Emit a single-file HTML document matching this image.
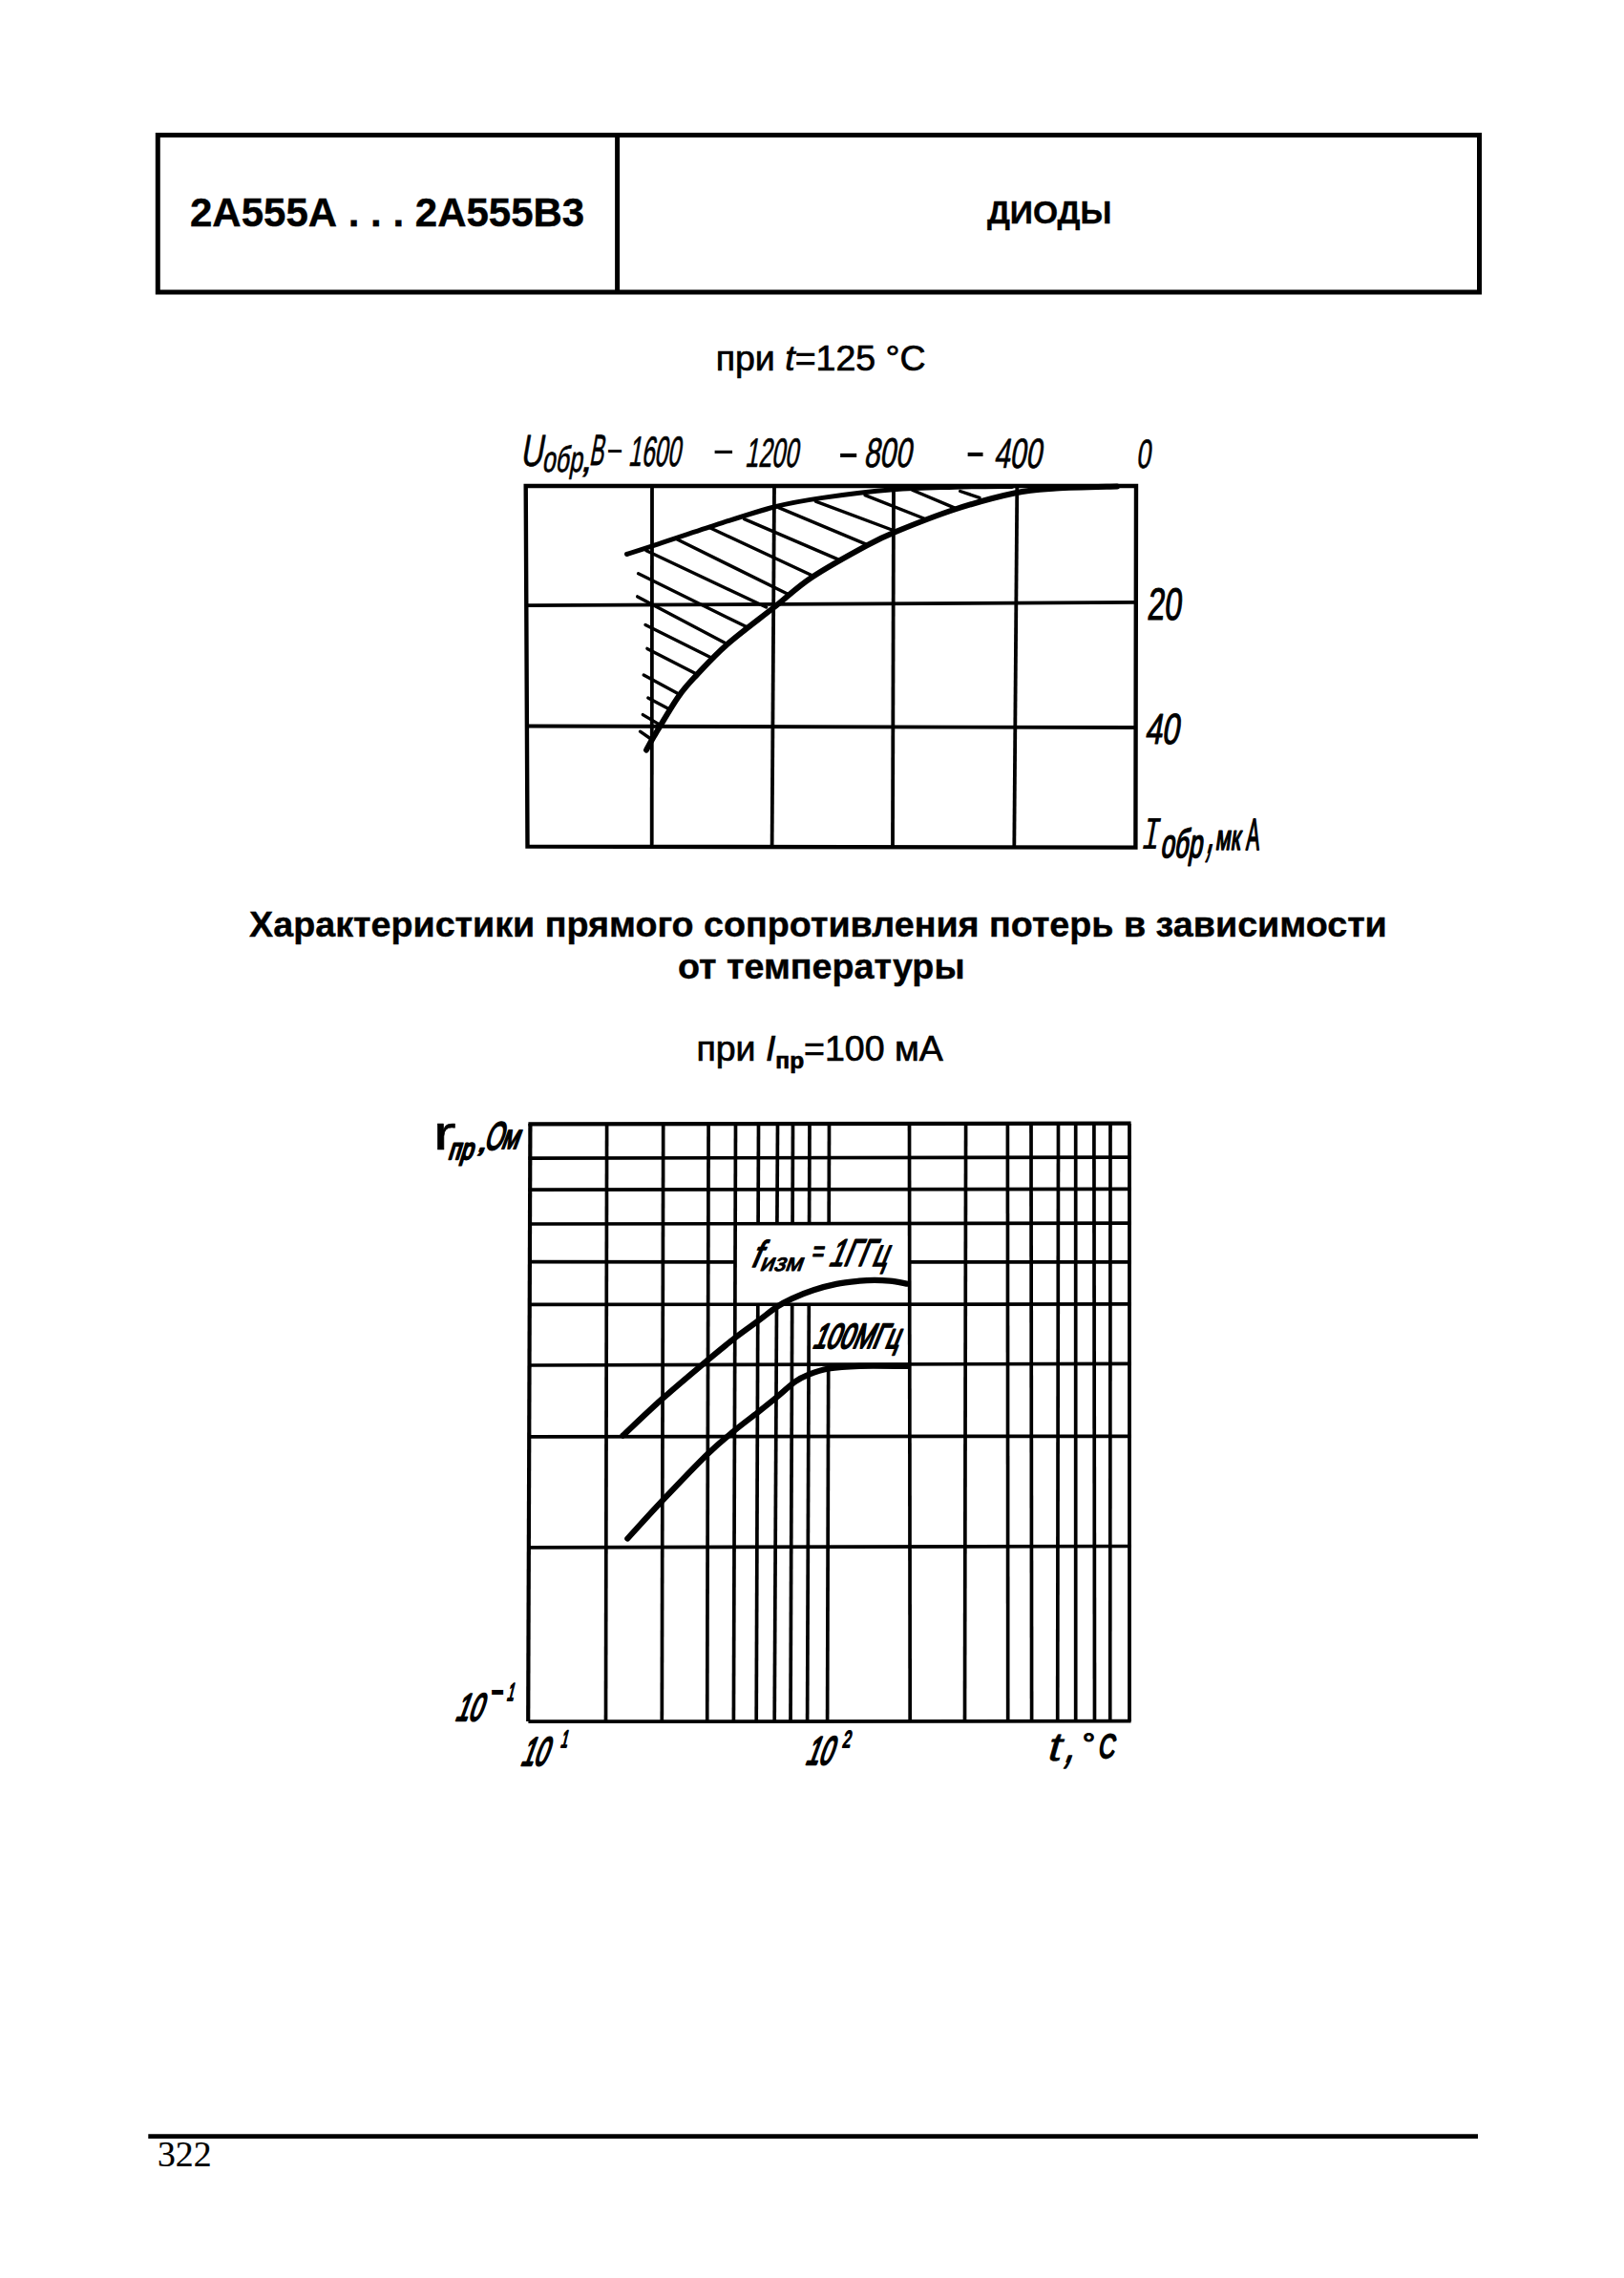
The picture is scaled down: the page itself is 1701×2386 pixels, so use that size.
<!DOCTYPE html>
<html lang="ru">
<head>
<meta charset="utf-8">
<title>2А555А ... 2А555В3 — Диоды</title>
<style>
html,body{margin:0;padding:0;background:#fff;}
body{width:1701px;height:2386px;position:relative;overflow:hidden;color:#000;
  font-family:"Liberation Sans",sans-serif;}
.t{position:absolute;white-space:nowrap;line-height:1;margin:0;padding:0;}
.t{-webkit-text-stroke:0.7px #000;}
.b{font-weight:bold;-webkit-text-stroke:0.4px #000;}
#art{position:absolute;left:0;top:0;width:1701px;height:2386px;}
#art text{font-family:"Liberation Sans",sans-serif;fill:#000;font-size:100px;}
#art text.m{font-family:"Liberation Mono",monospace;}
#art text.bd{font-weight:bold;}
.g{stroke:#000;fill:none;stroke-linecap:butt;}
.c{stroke:#000;fill:none;stroke-linecap:round;stroke-linejoin:round;}
</style>
</head>
<body>
<div class="t b" style="left:199.0px;top:202.4px;font-size:42px;">2А555А . . . 2А555В3</div>
<div class="t b" style="left:1033.9px;top:206.1px;font-size:33.6px;">ДИОДЫ</div>
<div class="t " style="left:749.7px;top:357.3px;font-size:37.5px;">при <i>t</i>=125 °C</div>
<div class="t b" style="left:261.1px;top:950.1px;font-size:37.7px;">Характеристики прямого сопротивления потерь в зависимости</div>
<div class="t b" style="left:710.0px;top:993.9px;font-size:37.7px;">от температуры</div>
<div class="t " style="left:729.4px;top:1079.8px;font-size:37.5px;">при <i>I</i><span style="font-size:24.5px;font-weight:bold;position:relative;top:8px;">пр</span>=100 мА</div>
<div class="t" style="left:165px;top:2237.7px;font-size:37.7px;font-family:'Liberation Serif',serif;-webkit-text-stroke:0.2px #000;">322</div>
<svg id="art" viewBox="0 0 1701 2386" width="1701" height="2386">
<g class="g" stroke-width="5"><rect x="165.3" y="141.5" width="1384.2" height="164.5"/><line x1="646.6" y1="141.5" x2="646.6" y2="306"/></g>
<line class="g" stroke-width="4.8" x1="155.3" y1="2237.7" x2="1548" y2="2237.7"/>
<g id="chart1"><g class="g" stroke-width="3.8"><path d="M550.7 509 L1190 509 L1189.4 887.6 L552.5 886.6 Z" stroke-width="4.4"/><line x1="683" y1="509" x2="682.7" y2="887"/><line x1="811" y1="509" x2="808.6" y2="887"/><line x1="936" y1="509" x2="935" y2="887"/><line x1="1065.3" y1="509" x2="1062.3" y2="887"/><line x1="551" y1="634.2" x2="1190" y2="630.9"/><line x1="551" y1="760.5" x2="1190" y2="762"/></g><g class="c" stroke-width="3.4"><line x1="1005.7" y1="514.5" x2="1026" y2="521.3"/><line x1="955.5" y1="513.2" x2="1000.2" y2="532.1"/><line x1="906" y1="518.6" x2="967.7" y2="543"/><line x1="854.3" y1="525.1" x2="935.6" y2="555.5"/><line x1="815.5" y1="531.6" x2="907.9" y2="570.4"/><line x1="779.5" y1="543.6" x2="878.3" y2="586.1"/><line x1="743.5" y1="552.8" x2="850.6" y2="602.7"/><line x1="707.4" y1="563.9" x2="824.7" y2="622.1"/><line x1="677" y1="576.8" x2="802.6" y2="636"/><line x1="668.6" y1="600.8" x2="781.3" y2="656.3"/><line x1="667.7" y1="624.9" x2="761.9" y2="674.7"/><line x1="676" y1="654.4" x2="746.2" y2="689.5"/><line x1="677.9" y1="679.4" x2="729.6" y2="706.1"/><line x1="674.2" y1="707.1" x2="712" y2="727.4"/><line x1="678.8" y1="731.1" x2="700" y2="742.2"/><line x1="673.3" y1="748.6" x2="689" y2="757.9"/><line x1="670.5" y1="766.2" x2="682.5" y2="774.5"/></g><path class="c" stroke-width="5" d="M656.5 580.5 C660.8 579.1 668.0 577.0 682.5 572.2 C697.0 567.4 722.1 558.8 743.5 551.9 C764.9 545.0 791.2 536.1 810.9 531.0 C830.6 525.9 840.9 524.4 861.7 521.4 C882.5 518.4 912.6 514.7 935.6 512.8 C958.6 510.9 979.3 510.8 1000.0 510.2 C1020.7 509.6 1050.0 509.6 1060.0 509.5"/><path class="c" stroke-width="6" d="M677.0 785.6 C678.4 783.1 679.8 780.0 685.3 770.8 C690.8 761.6 702.7 741.0 710.2 730.2 C717.7 719.4 721.9 715.4 730.5 706.1 C739.1 696.9 748.5 686.4 761.9 674.7 C775.3 663.0 796.1 647.7 810.9 636.0 C825.7 624.3 834.4 615.3 850.6 604.5 C866.8 593.7 893.1 579.3 907.9 571.3 C922.7 563.3 923.9 562.8 939.3 556.5 C954.7 550.2 979.7 540.2 1000.2 533.5 C1020.8 526.8 1045.0 520.2 1062.6 516.5 C1080.2 512.8 1088.1 512.7 1106.0 511.5 C1123.9 510.3 1159.3 509.8 1170.0 509.5"/></g>
<g id="chart2"><g class="g" stroke-width="3.7"><line x1="555.4" y1="1177" x2="553.2" y2="1803" stroke-width="4.2"/><line x1="635.6" y1="1177" x2="634.5" y2="1803"/><line x1="694.7" y1="1177" x2="693.3" y2="1803"/><line x1="742.1" y1="1177" x2="740.7" y2="1803"/><line x1="770.5" y1="1177" x2="768.4" y2="1803"/><line x1="794.5" y1="1177" x2="794.1" y2="1281.8"/><line x1="793.8" y1="1366.2" x2="792.2" y2="1803"/><line x1="814.5" y1="1177" x2="813.9" y2="1281.8"/><line x1="813.5" y1="1366.2" x2="811.2" y2="1803"/><line x1="830.5" y1="1177" x2="830.1" y2="1281.8"/><line x1="829.7" y1="1366.2" x2="828" y2="1803"/><line x1="848" y1="1177" x2="847.6" y2="1281.8"/><line x1="847.3" y1="1366.2" x2="845.6" y2="1803"/><line x1="868.5" y1="1177" x2="868.2" y2="1281.8"/><line x1="867.7" y1="1429" x2="866.6" y2="1803"/><line x1="952.5" y1="1177" x2="953.2" y2="1803"/><line x1="1011.6" y1="1177" x2="1010.5" y2="1803"/><line x1="1055.4" y1="1177" x2="1055.7" y2="1803"/><line x1="1080" y1="1177" x2="1080.6" y2="1803"/><line x1="1108.5" y1="1177" x2="1107.7" y2="1803"/><line x1="1126.7" y1="1177" x2="1126.7" y2="1803"/><line x1="1145.9" y1="1177" x2="1146.5" y2="1803"/><line x1="1163" y1="1177" x2="1162.7" y2="1803"/><line x1="1183" y1="1177" x2="1183" y2="1803" stroke-width="3.8"/><line x1="553.4" y1="1177.4" x2="1184.6" y2="1176.7" stroke-width="4.3"/><line x1="553.4" y1="1213.1" x2="1184.6" y2="1212.1"/><line x1="553.4" y1="1246.2" x2="1184.6" y2="1245.4"/><line x1="553.4" y1="1282" x2="1184.6" y2="1281.2"/><line x1="553.4" y1="1321.7" x2="770" y2="1321.8"/><line x1="952.6" y1="1321.8" x2="1184.6" y2="1321.9"/><line x1="553.4" y1="1366.4" x2="1184.6" y2="1365.9"/><line x1="553.4" y1="1430" x2="1184.6" y2="1428.3"/><line x1="553.4" y1="1504.8" x2="1184.6" y2="1504.3"/><line x1="553.4" y1="1620.8" x2="1184.6" y2="1619.5"/><line x1="553.4" y1="1803.2" x2="1184.6" y2="1802.7" stroke-width="3.8"/></g><path class="c" stroke-width="6.2" d="M652.5 1503.6 C659.4 1497.1 679.2 1478.0 693.9 1464.9 C708.6 1451.8 727.9 1435.8 740.6 1425.1 C753.4 1414.4 761.4 1407.9 770.4 1400.9 C779.4 1393.9 787.2 1388.6 794.4 1383.3 C801.6 1378.0 807.7 1372.8 813.6 1368.9 C819.5 1365.0 823.3 1363.0 829.7 1360.1 C836.1 1357.2 844.4 1353.8 852.1 1351.3 C859.8 1348.8 868.1 1346.5 876.1 1344.9 C884.1 1343.3 893.4 1342.4 900.1 1341.7 C906.8 1341.0 910.8 1340.9 916.1 1340.9 C921.4 1340.9 926.3 1341.1 932.1 1341.7 C937.9 1342.3 947.7 1344.2 950.8 1344.7"/><path class="c" stroke-width="6.2" d="M657.3 1611.5 C663.4 1604.9 680.0 1586.4 693.9 1571.7 C707.8 1557.0 728.0 1535.7 740.6 1523.5 C753.2 1511.3 760.5 1505.7 769.3 1498.4 C778.1 1491.1 786.3 1485.2 793.4 1479.6 C800.5 1474.0 805.2 1470.3 811.8 1464.9 C818.4 1459.5 827.3 1451.3 833.1 1447.1 C838.9 1442.9 840.9 1442.1 846.7 1439.8 C852.5 1437.5 858.8 1435.0 867.7 1433.5 C876.6 1432.0 886.2 1431.3 900.1 1430.9 C914.0 1430.5 942.3 1431.0 950.8 1431.0"/></g>
<g id="labels">
<text stroke="#000" stroke-width="0.6" stroke-linejoin="round" vector-effect="non-scaling-stroke" transform="matrix(0.3257 0 -0.0827 0.4691 544.65 488.20)">U</text>
<text stroke="#000" stroke-width="0.6" stroke-linejoin="round" vector-effect="non-scaling-stroke" transform="matrix(0.2495 0 -0.0669 0.3793 567.49 494.40)">обр</text>
<text stroke="#000" stroke-width="0.4" stroke-linejoin="round" vector-effect="non-scaling-stroke" transform="matrix(0.4753 0 -0.0898 0.4227 606.76 493.58)">,</text>
<text stroke="#000" stroke-width="0.6" stroke-linejoin="round" vector-effect="non-scaling-stroke" transform="matrix(0.2257 0 -0.0804 0.4561 616.78 486.50)">В</text>
<text transform="matrix(0.5720 0 0.0000 0.3750 634.41 481.52)">-</text>
<text stroke="#000" stroke-width="0.6" stroke-linejoin="round" vector-effect="non-scaling-stroke" transform="matrix(0.2451 0 -0.0780 0.4422 657.85 488.20)">1600</text>
<text transform="matrix(0.7560 0 0.0000 0.4000 745.28 483.80)">-</text>
<text stroke="#000" stroke-width="0.6" stroke-linejoin="round" vector-effect="non-scaling-stroke" transform="matrix(0.2502 0 -0.0755 0.4279 780.03 489.20)">1200</text>
<text transform="matrix(0.7000 0 0.0000 0.5250 877.10 491.18)">-</text>
<text stroke="#000" stroke-width="0.6" stroke-linejoin="round" vector-effect="non-scaling-stroke" transform="matrix(0.2999 0 -0.0763 0.4324 904.39 489.10)">800</text>
<text transform="matrix(0.6520 0 0.0000 0.5250 1010.69 490.48)">-</text>
<text stroke="#000" stroke-width="0.6" stroke-linejoin="round" vector-effect="non-scaling-stroke" transform="matrix(0.2998 0 -0.0773 0.4384 1040.68 490.30)">400</text>
<text stroke="#000" stroke-width="0.6" stroke-linejoin="round" vector-effect="non-scaling-stroke" transform="matrix(0.2673 0 -0.0597 0.4246 1190.05 489.60)">0</text>
<text stroke="#000" stroke-width="1.0" stroke-linejoin="round" vector-effect="non-scaling-stroke" transform="matrix(0.3245 0 -0.0497 0.4733 1201.00 648.70)">20</text>
<text stroke="#000" stroke-width="1.0" stroke-linejoin="round" vector-effect="non-scaling-stroke" transform="matrix(0.3199 0 -0.0794 0.4502 1198.63 778.70)">40</text>
<text class="m" transform="matrix(0.3351 0 -0.0855 0.4848 1193.81 888.60)">I</text>
<text stroke="#000" stroke-width="1.4" stroke-linejoin="round" vector-effect="non-scaling-stroke" transform="matrix(0.2586 0 -0.0746 0.4230 1214.95 898.00)">обр</text>
<text stroke="#000" stroke-width="1.2" stroke-linejoin="round" vector-effect="non-scaling-stroke" transform="matrix(0.2947 0 -0.1908 0.7653 1262.19 892.53)">,</text>
<text stroke="#000" stroke-width="1.4" stroke-linejoin="round" vector-effect="non-scaling-stroke" transform="matrix(0.2319 0 -0.0525 0.3738 1272.61 890.10)">мк</text>
<text stroke="#000" stroke-width="1.4" stroke-linejoin="round" vector-effect="non-scaling-stroke" transform="matrix(0.2081 0 -0.0327 0.4679 1304.76 889.60)">А</text>
<text stroke="#000" stroke-width="0.6" stroke-linejoin="round" vector-effect="non-scaling-stroke" transform="matrix(0.7240 0 -0.0000 0.5069 453.38 1204.30)">r</text>
<text stroke="#000" stroke-width="2.2" stroke-linejoin="round" vector-effect="non-scaling-stroke" transform="matrix(0.2336 0 -0.0944 0.3087 468.77 1214.20)">пр</text>
<text stroke="#000" stroke-width="1.5" stroke-linejoin="round" vector-effect="non-scaling-stroke" transform="matrix(0.4034 0 -0.1194 0.3281 498.19 1206.08)">,</text>
<text stroke="#000" stroke-width="1.8" stroke-linejoin="round" vector-effect="non-scaling-stroke" transform="matrix(0.2434 0 -0.1335 0.4110 506.33 1203.70)">О</text>
<text stroke="#000" stroke-width="1.8" stroke-linejoin="round" vector-effect="non-scaling-stroke" transform="matrix(0.2610 0 -0.1307 0.3591 523.99 1203.00)">м</text>
<text stroke="#000" stroke-width="1.5" stroke-linejoin="round" vector-effect="non-scaling-stroke" transform="matrix(0.3332 0 -0.1650 0.3888 785.15 1327.20)">f</text>
<text stroke="#000" stroke-width="1.1" stroke-linejoin="round" vector-effect="non-scaling-stroke" transform="matrix(0.2605 0 -0.0925 0.2541 795.11 1331.20)">изм</text>
<text stroke="#000" stroke-width="1.0" stroke-linejoin="round" vector-effect="non-scaling-stroke" transform="matrix(0.2180 0 -0.0544 0.3088 849.54 1320.79)">=</text>
<text stroke="#000" stroke-width="1.5" stroke-linejoin="round" vector-effect="non-scaling-stroke" transform="matrix(0.2777 0 -0.1625 0.4023 866.80 1326.40)">1ГГц</text>
<text stroke="#000" stroke-width="2.0" stroke-linejoin="round" vector-effect="non-scaling-stroke" transform="matrix(0.2503 0 -0.1476 0.3653 849.89 1412.10)">100МГц</text>
<text stroke="#000" stroke-width="2.0" stroke-linejoin="round" vector-effect="non-scaling-stroke" transform="matrix(0.2481 0 -0.1465 0.4024 475.82 1801.70)">10</text>
<text class="bd" transform="matrix(0.4720 0 0.0000 0.4167 513.31 1783.83)">-</text>
<text stroke="#000" stroke-width="1.6" stroke-linejoin="round" vector-effect="non-scaling-stroke" transform="matrix(0.1312 0 -0.0642 0.2575 530.23 1781.00)">1</text>
<text stroke="#000" stroke-width="2.0" stroke-linejoin="round" vector-effect="non-scaling-stroke" transform="matrix(0.2462 0 -0.1523 0.4186 544.34 1848.50)">10</text>
<text stroke="#000" stroke-width="1.6" stroke-linejoin="round" vector-effect="non-scaling-stroke" transform="matrix(0.1312 0 -0.0628 0.2520 586.45 1829.80)">1</text>
<text stroke="#000" stroke-width="2.0" stroke-linejoin="round" vector-effect="non-scaling-stroke" transform="matrix(0.2486 0 -0.1511 0.4152 842.47 1847.60)">10</text>
<text stroke="#000" stroke-width="1.6" stroke-linejoin="round" vector-effect="non-scaling-stroke" transform="matrix(0.1528 0 -0.0518 0.2439 881.87 1829.90)">2</text>
<text stroke="#000" stroke-width="0.6" stroke-linejoin="round" vector-effect="non-scaling-stroke" transform="matrix(0.5176 0 -0.1214 0.4235 1094.94 1844.30)">t</text>
<text stroke="#000" stroke-width="1.6" stroke-linejoin="round" vector-effect="non-scaling-stroke" transform="matrix(0.3538 0 -0.1961 0.5387 1113.76 1844.67)">,</text>
<text stroke="#000" stroke-width="1.2" stroke-linejoin="round" vector-effect="non-scaling-stroke" transform="matrix(0.3364 0 -0.0000 0.2918 1133.81 1835.50)">°</text>
<text stroke="#000" stroke-width="1.8" stroke-linejoin="round" vector-effect="non-scaling-stroke" transform="matrix(0.2375 0 -0.0620 0.3517 1149.58 1841.00)">С</text>
</g>
</svg>
</body>
</html>
